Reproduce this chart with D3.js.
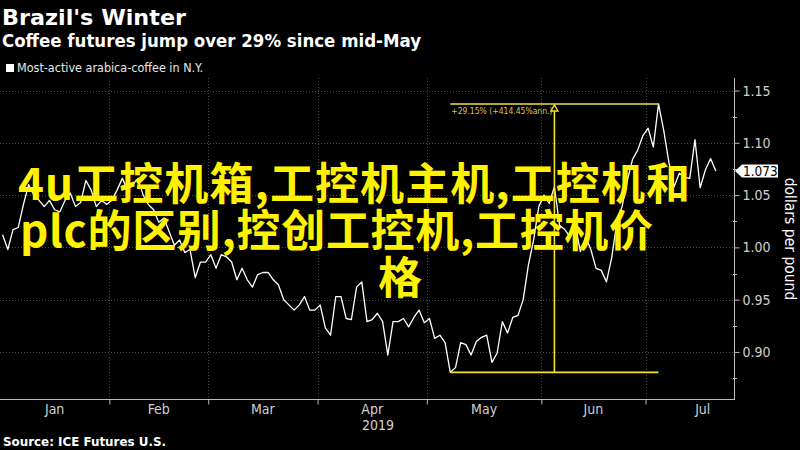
<!DOCTYPE html>
<html><head><meta charset="utf-8">
<script src="https://cdn.jsdelivr.net/npm/d3@7"></script>
<style>html,body{margin:0;padding:0;background:#000;} svg{display:block;}</style>
</head><body><svg id="c" width="800" height="450"></svg>
<script>
// ---------- data ----------
const months = ["Jan", "Feb", "Mar", "Apr", "May", "Jun", "Jul"];
const monthStarts = [0, 21, 40, 61, 82, 104, 124, 146]; // trading-day index of first session of each month
const yearLabel = "2019";
const prices = [
  1.012, 0.998, 1.017, 1.019, 1.041, 1.060, 1.050, 1.045, 1.039, 1.045, 1.036, 1.034, 1.045, 1.052, 1.039, 1.043, 1.064, 1.055, 1.039, 1.045, 1.041,
  1.045, 1.055, 1.066, 1.055, 1.060, 1.066, 1.050, 1.041, 1.036, 1.024, 1.028, 1.015, 1.002, 1.007, 0.995, 0.998, 0.971, 0.986, 0.986,
  0.993, 0.980, 0.993, 0.991, 0.986, 0.969, 0.980, 0.969, 0.962, 0.974, 0.976, 0.976, 0.969, 0.964, 0.950, 0.945, 0.940, 0.945, 0.953, 0.940, 0.940,
  0.945, 0.923, 0.916, 0.953, 0.953, 0.932, 0.931, 0.962, 0.967, 0.929, 0.931, 0.937, 0.929, 0.897, 0.929, 0.929, 0.932, 0.924, 0.933, 0.940, 0.928,
  0.932, 0.913, 0.916, 0.909, 0.8805, 0.885, 0.909, 0.907, 0.897, 0.910, 0.914, 0.916, 0.890, 0.899, 0.929, 0.918, 0.933, 0.935, 0.950, 0.983, 1.007, 1.039,
  1.050, 1.042, 1.058, 1.021, 1.017, 1.010, 1.021, 0.996, 1.010, 0.998, 0.980, 0.978, 0.967, 0.990, 1.024, 1.039, 1.064, 1.084, 1.093, 1.107,
  1.114, 1.096, 1.1372, 1.112, 1.081, 1.058, 1.071, 1.067, 1.066, 1.103, 1.057, 1.074, 1.085, 1.073
];
const yTicks = [0.90, 0.95, 1.00, 1.05, 1.10, 1.15];
const yMinorTicks = [0.875, 0.925, 0.975, 1.025, 1.075, 1.125];
const lastPriceLabel = "1.073";
const changeLabel = "+29.15% (+414.45%ann.)";
const titleText = "Brazil's Winter";
const subtitleText = "Coffee futures jump over 29% since mid-May";
const legendText = "Most-active arabica-coffee in N.Y.";
const sourceText = "Source: ICE Futures U.S.";
const unitText = "dollars per pound";
const overlayLines = ["4u工控机箱,工控机主机,工控机和", "plc的区别,控创工控机,工控机价", "格"];

// ---------- chart ----------
const svg = d3.select("#c");
svg.append("rect").attr("width", 800).attr("height", 450).attr("fill", "#000");

const plotL = 0, plotR = 734, plotT = 78, plotB = 399;
const x = d3.scaleLinear().domain([-0.5, 140.5]).range([plotL, plotR]);
const y = d3.scaleLinear().domain([0.855, 1.162]).range([plotB, plotT]);

const cond = "'DejaVu Sans Condensed','DejaVu Sans',sans-serif";

// gridlines
const grid = svg.append("g");
grid.selectAll("line.h").data(yTicks).join("line")
  .attr("x1", plotL).attr("x2", plotR)
  .attr("y1", d => Math.round(y(d)) + 0.5).attr("y2", d => Math.round(y(d)) + 0.5)
  .attr("stroke", "#4a4a4a").attr("stroke-width", 1).attr("stroke-dasharray", "1,2");
grid.selectAll("line.v").data(monthStarts.slice(1, 7)).join("line")
  .attr("x1", d => Math.round(x(d - 0.5)) + 0.5).attr("x2", d => Math.round(x(d - 0.5)) + 0.5)
  .attr("y1", plotT).attr("y2", plotB)
  .attr("stroke", "#4a4a4a").attr("stroke-width", 1).attr("stroke-dasharray", "1,2");

// right axis
const yAxis = d3.axisRight(y).tickValues(yTicks).tickFormat(d3.format(".2f")).tickSize(5).tickPadding(3);
const gy = svg.append("g").attr("transform", `translate(${plotR + 0.5},0)`).call(yAxis);
gy.select(".domain").remove();
gy.selectAll(".tick line").attr("stroke", "#bbb");
gy.selectAll(".tick text").attr("fill", "#d0d0d0").attr("font-family", cond).attr("font-size", 14);
svg.append("line").attr("x1", plotR + 0.5).attr("x2", plotR + 0.5).attr("y1", plotT).attr("y2", plotB + 1)
  .attr("stroke", "#bbb").attr("stroke-width", 1);
svg.append("g").selectAll("line").data(yMinorTicks).join("line")
  .attr("x1", plotR - 1).attr("x2", plotR + 3)
  .attr("y1", d => Math.round(y(d)) + 0.5).attr("y2", d => Math.round(y(d)) + 0.5)
  .attr("stroke", "#bbb");

// bottom axis
const xAxis = d3.axisBottom(x).tickValues(monthStarts.slice(1, 7).map(d => d - 0.5)).tickFormat("").tickSize(5);
const gx = svg.append("g").attr("transform", `translate(0,${plotB + 0.5})`).call(xAxis);
gx.select(".domain").remove();
gx.selectAll(".tick line").attr("stroke", "#bbb");
svg.append("line").attr("x1", plotL).attr("x2", plotR + 0.5).attr("y1", plotB + 0.5).attr("y2", plotB + 0.5)
  .attr("stroke", "#bbb").attr("stroke-width", 1);
svg.append("g").selectAll("text").data(months).join("text")
  .attr("x", (d, i) => (x(monthStarts[i] - 0.5) + x(monthStarts[i + 1] - 0.5)) / 2)
  .attr("y", 414).attr("text-anchor", "middle")
  .attr("fill", "#d0d0d0").attr("font-family", cond).attr("font-size", 14)
  .text(d => d);
svg.append("text").attr("x", (x(-0.5) + x(monthStarts[7] - 0.5)) / 2 - 2).attr("y", 430)
  .attr("text-anchor", "middle").attr("fill", "#d0d0d0").attr("font-family", cond).attr("font-size", 14)
  .text(yearLabel);

// price line
svg.append("path").datum(prices)
  .attr("d", d3.line().x((d, i) => x(i)).y(d => y(d)))
  .attr("fill", "none").attr("stroke", "#fff").attr("stroke-width", 1.3).attr("stroke-linejoin", "round");

// change annotation
const lowIdx = prices.indexOf(d3.min(prices));
const highIdx = lowIdx + d3.maxIndex(prices.slice(lowIdx));
const yel = "#f5e22c";
const ann = svg.append("g");
ann.append("line").attr("x1", x(lowIdx)).attr("x2", x(highIdx)).attr("y1", y(prices[highIdx])).attr("y2", y(prices[highIdx]))
  .attr("stroke", yel).attr("stroke-width", 1.6);
ann.append("line").attr("x1", x(lowIdx)).attr("x2", x(highIdx)).attr("y1", y(prices[lowIdx])).attr("y2", y(prices[lowIdx]))
  .attr("stroke", yel).attr("stroke-width", 1.6);
const midX = x((lowIdx + highIdx) / 2);
const topY = y(prices[highIdx]);
ann.append("line").attr("x1", midX).attr("x2", midX).attr("y1", topY + 7).attr("y2", y(prices[lowIdx]))
  .attr("stroke", yel).attr("stroke-width", 1.6);
ann.append("path").attr("d", `M${midX},${topY + 1} L${midX + 3.5},${topY + 7} L${midX - 3.5},${topY + 7} Z`)
  .attr("fill", "#000").attr("stroke", yel).attr("stroke-width", 1.4);
ann.append("text").attr("x", x(lowIdx) + 1).attr("y", topY + 10)
  .attr("fill", "#d8c850").attr("font-family", cond).attr("font-size", 8.5)
  .text(changeLabel);

// last price tag
const lastY = y(prices[prices.length - 1]);
svg.append("path").attr("d", `M${plotR + 1},${lastY} L${plotR + 8},${lastY - 6.5} L778,${lastY - 6.5} L778,${lastY + 6.5} L${plotR + 8},${lastY + 6.5} Z`)
  .attr("fill", "#fff");
svg.append("text").attr("x", plotR + 9).attr("y", lastY + 5)
  .attr("fill", "#000").attr("font-family", cond).attr("font-size", 13.5).text(lastPriceLabel);

// unit label
svg.append("text").attr("transform", "translate(785,239) rotate(90)")
  .attr("text-anchor", "middle").attr("fill", "#fff").attr("font-family", cond).attr("font-size", 15.5)
  .text(unitText);

// titles
svg.append("text").attr("x", 2).attr("y", 25).attr("fill", "#fff")
  .attr("font-family", "'DejaVu Sans',sans-serif").attr("font-weight", "bold").attr("font-size", 22)
  .attr("textLength", 184).attr("lengthAdjust", "spacingAndGlyphs").text(titleText);
svg.append("text").attr("x", 2).attr("y", 47).attr("fill", "#fff")
  .attr("font-family", "'DejaVu Sans',sans-serif").attr("font-weight", "bold").attr("font-size", 18)
  .attr("textLength", 419).attr("lengthAdjust", "spacingAndGlyphs").text(subtitleText);
svg.append("rect").attr("x", 6).attr("y", 64).attr("width", 8).attr("height", 8).attr("fill", "#fff");
svg.append("text").attr("x", 17).attr("y", 72).attr("fill", "#e8e8e8")
  .attr("font-family", cond).attr("font-size", 12)
  .attr("textLength", 186).attr("lengthAdjust", "spacingAndGlyphs").text(legendText);
svg.append("text").attr("x", 3).attr("y", 446).attr("fill", "#fff")
  .attr("font-family", cond).attr("font-weight", "bold").attr("font-size", 12)
  .attr("textLength", 163).attr("lengthAdjust", "spacingAndGlyphs").text(sourceText);

// overlay text
const ov = [{x: 18, y: 200, len: 672}, {x: 20, y: 247, len: 633}, {x: 378, y: 294, len: 0}];
svg.append("g").selectAll("text").data(overlayLines).join("text")
  .attr("x", (d, i) => ov[i].x).attr("y", (d, i) => ov[i].y)
  .attr("fill", "#fff200").attr("font-family", "'Noto Sans CJK SC',sans-serif").attr("font-weight", 700)
  .attr("font-size", 44)
  .each(function(d, i) { if (ov[i].len) d3.select(this).attr("textLength", ov[i].len).attr("lengthAdjust", "spacing"); })
  .text(d => d);
</script></body></html>
